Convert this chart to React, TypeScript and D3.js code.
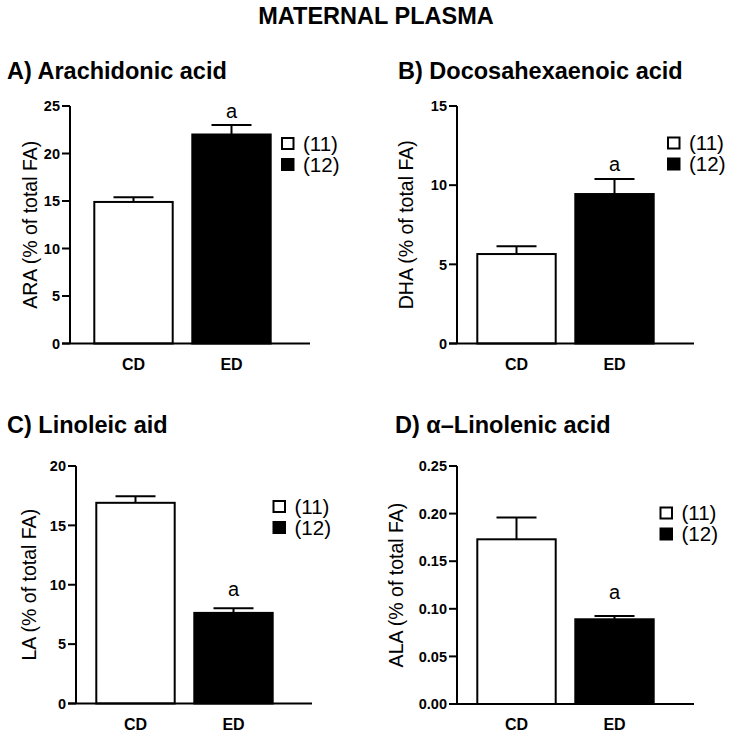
import React from "react";
import * as d3 from "d3";

const categories = ["CD", "ED"];
const groupLabels = ["(11)", "(12)"];
const mainTitle = "MATERNAL PLASMA";

const panelTitles = ["A) Arachidonic acid", "B) Docosahexaenoic acid", "C) Linoleic aid", "D) α–Linolenic acid"];
const yLabels = ["ARA (% of total FA)", "DHA (% of total FA)", "LA (% of total FA)", "ALA (% of total FA)"];

const araMean = [14.9, 22.0];
const araSem = [0.5, 1.0];
const dhaMean = [5.65, 9.44];
const dhaSem = [0.5, 0.95];
const laMean = [16.9, 7.63];
const laSem = [0.55, 0.4];
const alaMean = [0.173, 0.089];
const alaSem = [0.023, 0.0035];

const araTicks = [0, 5, 10, 15, 20, 25];
const dhaTicks = [0, 5, 10, 15];
const laTicks = [0, 5, 10, 15, 20];
const alaTicks = [0, 0.05, 0.1, 0.15, 0.2, 0.25];

const sigLabels = ["", "a"];

const FONT = "'Liberation Sans', Arial, sans-serif";

type Layout = {
  axisX: number; xEnd: number; y0: number; yTop: number; bar0: number;
  titleX: number; titleY: number; labelX: number; legX: number; legY: number; sigGap: number;
};

const layouts: Layout[] = [
  { axisX: 70, xEnd: 310, y0: 343.5, yTop: 106, bar0: 84.5, titleX: 7, titleY: 79, labelX: 37, legX: 282, legY: 138, sigGap: 7 },
  { axisX: 457, xEnd: 694, y0: 343.5, yTop: 106, bar0: 467.5, titleX: 398, titleY: 79, labelX: 413, legX: 668, legY: 137.5, sigGap: 8 },
  { axisX: 76, xEnd: 312, y0: 703.5, yTop: 466, bar0: 86.5, titleX: 7, titleY: 433, labelX: 36, legX: 273.5, legY: 501, sigGap: 12 },
  { axisX: 457, xEnd: 694, y0: 704, yTop: 466, bar0: 467.5, titleX: 395, titleY: 433, labelX: 403, legX: 660.5, legY: 507.5, sigGap: 17 },
];

const panels = [
  { means: araMean, sems: araSem, ticks: araTicks, fmt: d3.format("d") },
  { means: dhaMean, sems: dhaSem, ticks: dhaTicks, fmt: d3.format("d") },
  { means: laMean, sems: laSem, ticks: laTicks, fmt: d3.format("d") },
  { means: alaMean, sems: alaSem, ticks: alaTicks, fmt: d3.format(".2f") },
];

const fills = ["#ffffff", "#000000"];

function Panel({ idx }: { idx: number }) {
  const L = layouts[idx];
  const P = panels[idx];
  const yMax = P.ticks[P.ticks.length - 1];
  const y = d3.scaleLinear().domain([0, yMax]).range([L.y0, L.yTop]);
  const x = d3.scaleBand<string>().domain(categories).range([L.bar0, L.bar0 + 196]).paddingInner(0.2).paddingOuter(0.1);
  const bw = x.bandwidth();
  const tickLen = 8;
  const capW = 40;
  return (
    <g>
      <text x={L.titleX} y={L.titleY} fontFamily={FONT} fontWeight="bold" fontSize={23.5}>{panelTitles[idx]}</text>
      <text transform={`translate(${L.labelX},${(L.y0 + L.yTop) / 2}) rotate(-90)`} textAnchor="middle" fontFamily={FONT} fontSize={19.5}>{yLabels[idx]}</text>
      {categories.map((c, i) => {
        const cx = (x(c) as number) + bw / 2;
        const top = y(P.means[i]);
        const errTop = y(P.means[i] + P.sems[i]);
        return (
          <g key={c}>
            <line x1={cx} x2={cx} y1={top} y2={errTop} stroke="#000" strokeWidth={2} />
            <line x1={cx - capW / 2} x2={cx + capW / 2} y1={errTop} y2={errTop} stroke="#000" strokeWidth={2} />
            <rect x={x(c)} y={top} width={bw} height={L.y0 - top} fill={fills[i]} stroke="#000" strokeWidth={2} />
            {sigLabels[i] && (
              <text x={cx} y={errTop - L.sigGap} textAnchor="middle" fontFamily={FONT} fontSize={20}>{sigLabels[i]}</text>
            )}
            <text x={cx} y={L.y0 + 26} textAnchor="middle" fontFamily={FONT} fontWeight="bold" fontSize={16}>{c}</text>
          </g>
        );
      })}
      <line x1={L.axisX} x2={L.axisX} y1={y(yMax)} y2={L.y0} stroke="#000" strokeWidth={2} />
      <line x1={L.axisX - tickLen} x2={L.xEnd} y1={L.y0} y2={L.y0} stroke="#000" strokeWidth={2} />
      {P.ticks.map((t) => (
        <g key={t}>
          <line x1={L.axisX - tickLen} x2={L.axisX} y1={y(t)} y2={y(t)} stroke="#000" strokeWidth={2} />
          <text x={L.axisX - tickLen - 2} y={y(t)} dy="0.36em" textAnchor="end" fontFamily={FONT} fontWeight="bold" fontSize={14.5}>{P.fmt(t)}</text>
        </g>
      ))}
      {groupLabels.map((g, i) => (
        <g key={g}>
          <rect x={L.legX} y={L.legY + i * 21} width={11.5} height={11} fill={fills[i]} stroke="#000" strokeWidth={2} />
          <text x={L.legX + 21} y={L.legY + 12.5 + i * 21} fontFamily={FONT} fontSize={20.5}>{g}</text>
        </g>
      ))}
    </g>
  );
}

export default function App() {
  return (
    <svg width={734} height={736} style={{ position: "absolute", left: 0, top: 0, background: "#fff" }}>
      <rect width={734} height={736} fill="#fff" />
      <text x={376} y={24} textAnchor="middle" fontFamily={FONT} fontWeight="bold" fontSize={23.5}>{mainTitle}</text>
      {[0, 1, 2, 3].map((i) => <Panel key={i} idx={i} />)}
    </svg>
  );
}
